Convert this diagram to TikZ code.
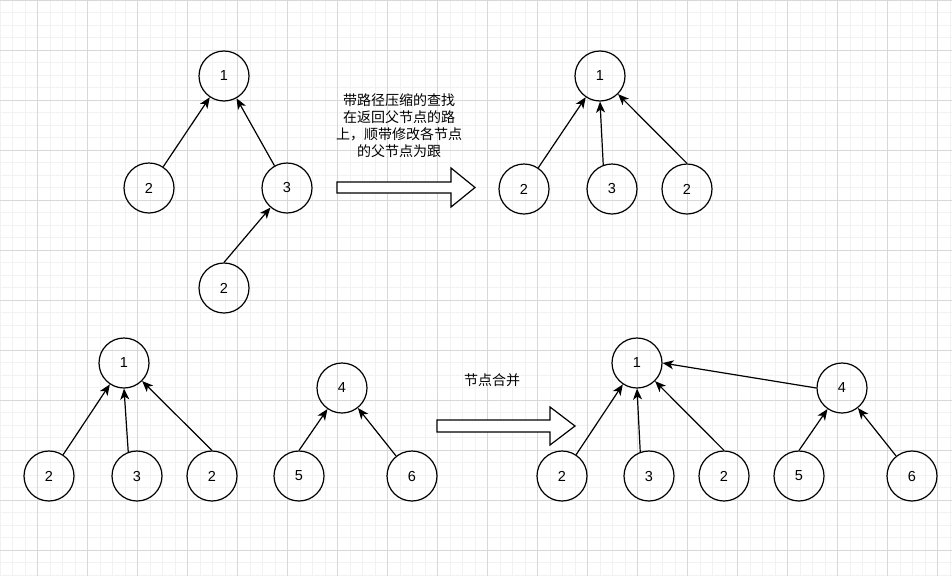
\documentclass[tikz,border=0pt]{standalone}
\usepackage{fontspec}
\setmainfont{Liberation Sans}
\newfontfamily\cjk{Noto Sans CJK SC}
\usetikzlibrary{arrows.meta}
\definecolor{GridMinor}{HTML}{f2f2f2}
\definecolor{GridMajor}{HTML}{d8d8d8}

\begin{document}
\begin{tikzpicture}[x=1pt,y=-1pt,
  vtx/.style={circle,draw,line width=1.2pt,minimum size=50pt,inner sep=0pt,
    font=\fontsize{14.5}{17}\selectfont},
  link/.style={line width=1.2pt,-{Stealth[length=11pt,width=9pt,inset=3pt]}},
  bigarrow/.style={line width=1.2pt,fill=white},
  note/.style={align=center,font=\cjk\fontsize{14}{17}\selectfont}]
\useasboundingbox (0,0) rectangle (952,576);

\foreach \x in {0,12.5,...,950} \draw[GridMinor,line width=0.9pt] (\x,0) -- (\x,576);
\foreach \y in {0,12.5,...,575} \draw[GridMinor,line width=0.9pt] (0,\y) -- (952,\y);
\foreach \x in {37.5,87.5,...,940} \draw[GridMajor,line width=0.9pt] (\x,0) -- (\x,576);
\foreach \y in {0,50,...,550} \draw[GridMajor,line width=0.9pt] (0,\y) -- (952,\y);

% before path compression
\node[vtx] (A1) at (224,76) {1};
\node[vtx] (A2) at (149,188) {2};
\node[vtx] (A3) at (287,188) {3};
\node[vtx] (A4) at (224,288) {2};
\draw[link] (A2) -- (A1);
\draw[link] (A3) -- (A1);
\draw[link] (A4.north) -- (A3);

\node[note] (N1) at (399,126) {带路径压缩的查找\\在返回父节点的路\\上，顺带修改各节点\\的父节点为跟};
\draw[bigarrow] (337,182) -- (451,182) -- (451,168) -- (475,187.5) -- (451,207) -- (451,193) -- (337,193) -- cycle;

% after path compression
\node[vtx] (B1) at (600,76) {1};
\node[vtx] (B2) at (524,189) {2};
\node[vtx] (B3) at (612,189) {3};
\node[vtx] (B4) at (687,189) {2};
\draw[link] (B2) -- (B1);
\draw[link] (B3.110) -- (B1.south);
\draw[link] (B4.north) -- (B1);

% two trees before union
\node[vtx] (C1) at (124,363) {1};
\node[vtx] (C2) at (49,476) {2};
\node[vtx] (C3) at (137,476) {3};
\node[vtx] (C4) at (212,476) {2};
\draw[link] (C2) -- (C1);
\draw[link] (C3.110) -- (C1.south);
\draw[link] (C4.north) -- (C1);

\node[vtx] (D4) at (342,388) {4};
\node[vtx] (D5) at (299,476) {5};
\node[vtx] (D6) at (412,476) {6};
\draw[link] (D5.north) -- (D4);
\draw[link] (D6) -- (D4);

\node[note] (N2) at (492,380) {节点合并};
\draw[bigarrow] (437,420) -- (550,420) -- (550,407) -- (575,426) -- (550,445) -- (550,432) -- (437,432) -- cycle;

% after union
\node[vtx] (E1) at (637,363) {1};
\node[vtx] (E2) at (562,476) {2};
\node[vtx] (E3) at (649,476) {3};
\node[vtx] (E4) at (724,476) {2};
\node[vtx] (E5) at (842,388) {4};
\node[vtx] (E6) at (799,476) {5};
\node[vtx] (E7) at (912,476) {6};
\draw[link] (E2) -- (E1);
\draw[link] (E3.110) -- (E1.south);
\draw[link] (E4.north) -- (E1);
\draw[link] (E5.west) -- (E1.east);
\draw[link] (E6.north) -- (E5);
\draw[link] (E7) -- (E5);

\end{tikzpicture}
\end{document}
